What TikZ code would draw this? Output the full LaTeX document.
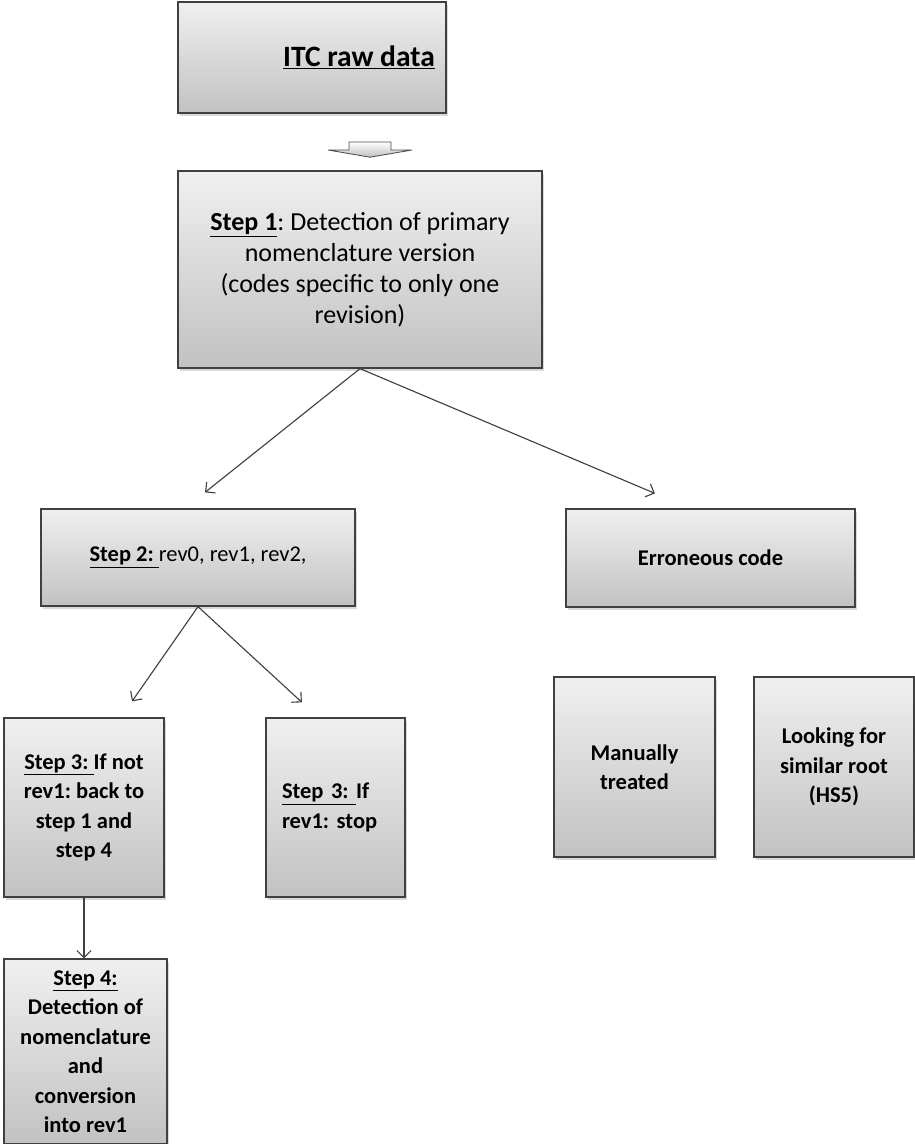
\documentclass[tikz,border=0pt]{standalone}
\usepackage{fontspec}
\setmainfont{Carlito}
\frenchspacing
\usetikzlibrary{positioning,arrows.meta,shadows,calc}

\begin{document}
\begin{tikzpicture}[
      box/.style={rectangle, draw=black!75, line width=0.9pt, top color=gray!12, bottom color=gray!48, align=center, inner sep=3pt, drop shadow={opacity=0.3, shadow xshift=0.6mm, shadow yshift=-0.8mm}},
      big/.style={font=\fontsize{18.5}{22}\selectfont},
      small/.style={font=\fontsize{16}{21}\selectfont\bfseries},
      link/.style={draw=black!75, line width=0.8pt, -{Straight Barb[length=5pt,width=10pt]}},
      blockarrow/.style={draw=black!70, line width=0.6pt, top color=white, bottom color=gray!50},
      ]
      \useasboundingbox (0,0) rectangle (22.85,-28.6);

      \node[box, minimum width=6.7cm, minimum height=2.775cm, font=\fontsize{21}{25}\selectfont\bfseries] (raw) at (7.8,-1.4375) {\hspace*{2.35cm}\underline{ITC raw data}};
      \node[box, big, minimum width=9.1cm, minimum height=4.925cm] (s1) at (9.0,-6.7375) {\underline{\textbf{Step 1}}: Detection of primary\\ nomenclature version\\ (codes specific to only one\\ revision)};
      \node[box, minimum width=7.85cm, minimum height=2.425cm, font=\fontsize{16}{21}\selectfont] (s2) at (4.95,-13.9375) {\underline{\textbf{Step 2: }}rev0, rev1, rev2,};
      \node[box, small, minimum width=7.225cm, minimum height=2.45cm] (err) at (17.7625,-13.95) {Erroneous code};
      \node[box, small, minimum width=4.0cm, minimum height=4.475cm] (s3a) at (2.1,-20.1875) {\underline{Step 3: }If not\\ rev1: back to\\ step 1 and\\ step 4};
      \node[box, small, minimum width=3.475cm, minimum height=4.475cm, text width=2.675cm, align=left] (s3b) at (8.3875,-20.1875) {\underline{Step 3: }If\\ rev1: stop};
      \node[box, small, minimum width=4.025cm, minimum height=4.5cm] (man) at (15.8625,-19.175) {Manually\\ treated};
      \node[box, small, minimum width=4.0cm, minimum height=4.5cm] (look) at (20.85,-19.175) {Looking for\\ similar root\\ (HS5)};
      \node[box, small, minimum width=4.075cm, minimum height=4.625cm] (s4) at (2.1375,-26.2875) {\underline{Step 4:}\\ Detection of\\ nomenclature\\ and\\ conversion\\ into rev1};

      % block arrow under the raw data
      \coordinate (bt) at (9.25,-3.75);
      \path[blockarrow] ([shift={(-0.525,0.2)}]bt) -- ++(1.05,0) -- ++(0,-0.2) -- ++(0.525,0) -- ++(-1.05,-0.18) -- ++(-1.05,0.18) -- ++(0.525,0) -- cycle;

      \draw[link] (s1.south) -- ([shift={(0.175,0.4)}]s2.north);
      \draw[link] (s1.south) -- ([shift={(-1.39,0.375)}]err.north);
      \draw[link] (s2.south) -- ([shift={(1.2,0.4)}]s3a.north);
      \draw[link] (s2.south) -- ([shift={(-0.84,0.375)}]s3b.north);
      \draw[link] (s3a.south) -- (s3a.south |- s4.north);
    \end{tikzpicture}
\end{document}
